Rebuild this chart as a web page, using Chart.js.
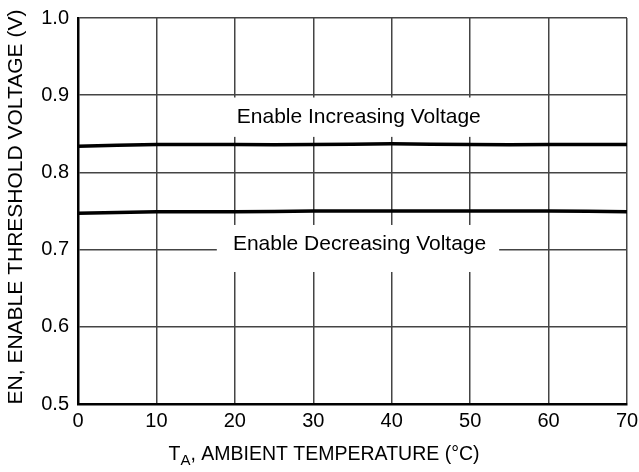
<!DOCTYPE html>
<html>
<head>
<meta charset="utf-8">
<script src="https://cdn.jsdelivr.net/npm/chart.js@4.4.1/dist/chart.umd.min.js"></script>
<style>
  body { margin: 0; background: #fff; }
  #wrap { width: 639px; height: 472px; position: relative; }
</style>
</head>
<body>
<div id="wrap"><canvas id="chart"></canvas></div>
<script>
'use strict';

// temperatures (deg C) where the curves were read
const temps = [0, 10, 20, 30, 40, 50, 60, 70];
// enable threshold, rising and falling
const increasingV = [0.834, 0.836, 0.836, 0.836, 0.837, 0.836, 0.836, 0.836];
const decreasingV = [0.747, 0.749, 0.749, 0.750, 0.750, 0.750, 0.750, 0.749];

const xTicks = [0, 10, 20, 30, 40, 50, 60, 70];
const yTicks = [0.5, 0.6, 0.7, 0.8, 0.9, 1.0];

const labelUp = 'Enable Increasing Voltage';
const labelDown = 'Enable Decreasing Voltage';
const xTitle = ['T', 'A', ', AMBIENT TEMPERATURE (°C)'];
const yTitle = 'EN, ENABLE THRESHOLD VOLTAGE (V)';

const FONT = '"Liberation Sans", Arial, Helvetica, sans-serif';

function toPoints(xs, ys) {
  let pts = [];
  for (let i = 0; i < xs.length; i++) {
    pts.push({ x: xs[i], y: ys[i] });
  }
  return pts;
}

// white boxes with the curve names, drawn over the grid
const notes = {
  id: 'notes',
  beforeDatasetsDraw(chart) {
    const ctx = chart.ctx;
    const xs = chart.scales.x;
    const ys = chart.scales.y;
    function box(x0, x1, y0, y1, text, tx, ty) {
      const l = xs.getPixelForValue(x0);
      const r = xs.getPixelForValue(x1);
      const t = ys.getPixelForValue(y0);
      const b = ys.getPixelForValue(y1);
      ctx.save();
      ctx.fillStyle = '#fff';
      ctx.fillRect(l, t, r - l, b - t);
      ctx.fillStyle = '#000';
      ctx.font = '21px ' + FONT;
      ctx.textAlign = 'center';
      ctx.textBaseline = 'middle';
      ctx.fillText(text, xs.getPixelForValue(tx), ys.getPixelForValue(ty));
      ctx.restore();
    }
    box(15, 55, 0.897, 0.846, labelUp, 35.8, 0.872);
    box(17.7, 53.7, 0.7319, 0.671, labelDown, 35.9, 0.7075);
  },
  afterDraw(chart) {
    const ctx = chart.ctx;
    ctx.save();
    ctx.fillStyle = '#000';
    ctx.textBaseline = 'alphabetic';
    // y title, rotated
    ctx.font = '21px ' + FONT;
    ctx.translate(22, 207);
    ctx.rotate(-Math.PI / 2);
    ctx.textAlign = 'center';
    ctx.fillText(yTitle, 0, 0);
    ctx.restore();

    // x title with subscript
    ctx.save();
    ctx.fillStyle = '#000';
    ctx.textAlign = 'left';
    ctx.textBaseline = 'alphabetic';
    const big = '19.5px ' + FONT;
    const small = '15px ' + FONT;
    ctx.font = big;
    const w0 = ctx.measureText(xTitle[0]).width;
    const w2 = ctx.measureText(xTitle[2]).width;
    ctx.font = small;
    const w1 = ctx.measureText(xTitle[1]).width;
    const total = w0 + w1 + w2;
    let x = 324 - total / 2;
    const base = 460;
    ctx.font = big;
    ctx.fillText(xTitle[0], x, base);
    x += w0;
    ctx.font = small;
    ctx.fillText(xTitle[1], x, base + 5);
    x += w1;
    ctx.font = big;
    ctx.fillText(xTitle[2], x, base);
    ctx.restore();
  }
};

const ctx = document.getElementById('chart');
new Chart(ctx, {
  type: 'line',
  data: {
    datasets: [{
      label: labelUp,
      data: toPoints(temps, increasingV),
      borderColor: '#000',
      borderWidth: 3.5,
      pointRadius: 0,
      tension: 0.3
    }, {
      label: labelDown,
      data: toPoints(temps, decreasingV),
      borderColor: '#000',
      borderWidth: 3.5,
      pointRadius: 0,
      tension: 0.3
    }]
  },
  options: {
    responsive: true,
    maintainAspectRatio: false,
    animation: false,
    devicePixelRatio: 1,
    layout: {
      padding: { top: 18, right: 12, left: 0, bottom: 0 }
    },
    plugins: {
      legend: { display: false },
      tooltip: { enabled: false }
    },
    scales: {
      x: {
        type: 'linear',
        min: 0,
        max: 70,
        afterFit: function(scale) {
          scale.height = 68;
          scale.paddingLeft = 0;
          scale.paddingRight = 0;
        },
        afterBuildTicks: function(scale) {
          scale.ticks = xTicks.map(function(v) { return { value: v }; });
        },
        grid: { color: '#444', lineWidth: 1.5, drawTicks: false },
        border: { color: '#000', width: 2.5 },
        ticks: {
          color: '#000',
          padding: 5,
          font: { family: FONT, size: 20 },
          maxRotation: 0
        }
      },
      y: {
        min: 0.5,
        max: 1.0,
        afterFit: function(scale) {
          scale.width = 78;
          scale.paddingTop = 0;
          scale.paddingBottom = 0;
        },
        afterBuildTicks: function(scale) {
          scale.ticks = yTicks.map(function(v) { return { value: v }; });
        },
        grid: { color: '#444', lineWidth: 1.5, drawTicks: false },
        border: { color: '#000', width: 2.5 },
        ticks: {
          color: '#000',
          padding: 9,
          font: { family: FONT, size: 20 },
          callback: function(v) { return v.toFixed(1); }
        }
      }
    }
  },
  plugins: [notes]
});
</script>
</body>
</html>
